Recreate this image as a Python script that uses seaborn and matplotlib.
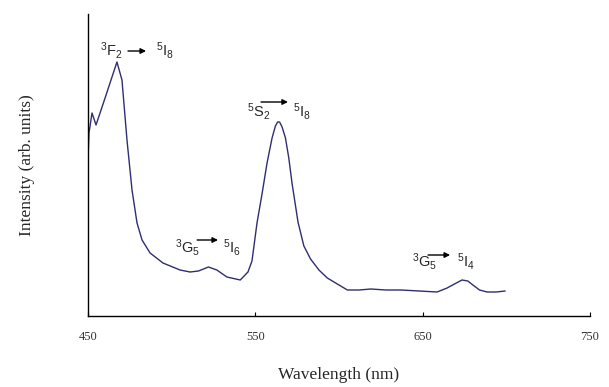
import numpy as np
import pandas as pd
import seaborn as sns
import matplotlib
matplotlib.use("Agg")
import matplotlib.pyplot as plt

# emission spectrum (intensity in arbitrary units)
wavelength = [450, 450.3, 450.6, 452.4, 454.8, 460, 467.3, 470.3, 473.3, 476.3,
              479.3, 482.3, 487.1, 494.8, 505, 511, 516, 522, 527, 533,
              541, 545.6, 548, 551, 554, 557, 560, 562, 563.3, 564.5,
              566, 568, 570, 572, 575.5, 579, 583, 588, 593, 599,
              605, 612, 619, 628, 637, 648, 658.6, 664.6, 669, 673.5,
              677, 680, 684, 688.5, 694, 699.3]
intensity = [154, 170, 183, 203, 191, 217, 254, 236, 176, 126,
             93, 76, 63, 53, 46, 44, 45, 49, 46, 39,
             36, 44, 55, 93, 122, 153, 178, 190, 194, 194,
             189, 178, 158, 132, 94, 70, 57, 46, 38, 32,
             26, 26, 27, 26, 26, 25, 24, 28, 32, 36,
             35, 31, 26, 24, 24, 25]

# transition labels: (initial state, final state)
initial_states = [r"$\mathrm{^{3}F_{2}}$", r"$\mathrm{^{5}S_{2}}$",
                  r"$\mathrm{^{3}G_{5}}$", r"$\mathrm{^{3}G_{5}}$"]
final_states = [r"$\mathrm{^{5}I_{8}}$", r"$\mathrm{^{5}I_{8}}$",
                r"$\mathrm{^{5}I_{6}}$", r"$\mathrm{^{5}I_{4}}$"]
# label anchors in data units: left label x, arrow start/end x, right label x, baseline y, arrow y
label_x = [457.2, 545.0, 502.0, 643.7]
arrow_x0 = [473.9, 553.4, 515.2, 653.2]
arrow_x1 = [484.7, 569.5, 527.7, 666.4]
right_x = [490.4, 572.5, 530.7, 670.6]
label_y = [260, 199, 63, 49]
arrow_y = [265, 214, 76, 61]

df = pd.DataFrame({"Wavelength": wavelength, "Intensity": intensity})

sns.set_style("ticks")
plt.rcParams["mathtext.fontset"] = "custom"
plt.rcParams["mathtext.rm"] = "Liberation Sans"
plt.rcParams["mathtext.it"] = "Liberation Sans:italic"

fig = plt.figure(figsize=(6.09, 3.87), dpi=100)
ax = fig.add_axes([88 / 609, 71 / 387, 502 / 609, 302 / 387])

sns.lineplot(data=df, x="Wavelength", y="Intensity", ax=ax,
             color="#2e2e70", linewidth=1.0)

ax.set_xlim(450, 750)
ax.set_ylim(0, 302)
ax.set_xticks([450, 550, 650, 750])
ax.set_yticks([])
ax.tick_params(axis="x", direction="in", length=3, width=0.8, pad=11,
               labelsize=9, colors="black")
for lbl in ax.get_xticklabels():
    lbl.set_family("Liberation Serif")
    lbl.set_color("#333333")

sns.despine(ax=ax)
for side in ["left", "bottom"]:
    ax.spines[side].set_color("black")
    ax.spines[side].set_linewidth(1.0)

ax.set_xlabel("Wavelength (nm)", family="Liberation Serif", fontsize=12.5,
              labelpad=17)
ax.set_ylabel("Intensity (arb. units)", family="Liberation Serif", fontsize=12.5,
              labelpad=38)

for i in range(len(initial_states)):
    ax.text(label_x[i], label_y[i], initial_states[i], fontsize=10.5,
            ha="left", va="baseline")
    ax.text(right_x[i], label_y[i], final_states[i], fontsize=10.5,
            ha="left", va="baseline")
    ax.annotate("", xy=(arrow_x1[i], arrow_y[i]), xytext=(arrow_x0[i], arrow_y[i]),
                arrowprops=dict(arrowstyle="-|>", color="black", lw=1,
                                mutation_scale=8, shrinkA=0, shrinkB=0))

fig.savefig("out.png", dpi=100)
